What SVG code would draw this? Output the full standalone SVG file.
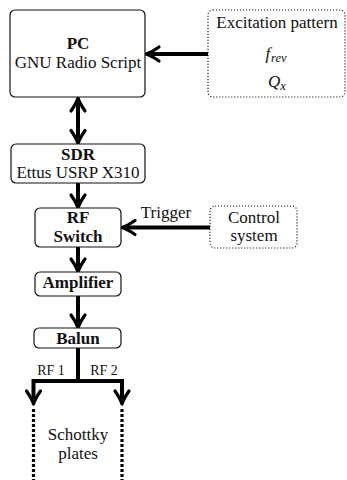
<svg xmlns="http://www.w3.org/2000/svg" width="347" height="480" viewBox="0 0 347 480" font-family="Liberation Serif">
<style>
text{font-size:17px;fill:#111;text-anchor:middle}
.b{font-weight:bold}
.s{font-size:14px}
.box{fill:#fff;stroke:#111;stroke-width:1.2}
.dot{fill:#fff;stroke:#111;stroke-width:1.1;stroke-dasharray:1.1 1.9}
.ar{fill:none;stroke:#000;stroke-width:4;marker-end:url(#ah)}
.ar2{fill:none;stroke:#000;stroke-width:4;marker-end:url(#ah);marker-start:url(#ah)}
.ln{fill:none;stroke:#000;stroke-width:4}
.pl{fill:none;stroke:#000;stroke-width:3.2;stroke-dasharray:3 2}
.m{font-style:italic}
.sub{font-style:italic;font-size:12.5px}
</style>
<defs>
<marker id="ah" markerUnits="userSpaceOnUse" viewBox="-16 -10 20 20" markerWidth="20" markerHeight="20" refX="-4" refY="0" orient="auto-start-reverse" overflow="visible">
<path d="M-12,-7 Q-4,-1.5 1,0 Q-4,1.5 -12,7" fill="none" stroke="#000" stroke-width="3.2" stroke-linecap="round" stroke-linejoin="round"/>
</marker>
</defs>
<g id="connectors">
<path class="ar" d="M208,54 H151"/>
<path class="ar2" d="M78,103 V138.5"/>
<path class="ar" d="M78,183 V203"/>
<path class="ar" d="M210,227.5 H127"/>
<path class="ar" d="M78,247 V267"/>
<path class="ar" d="M78,296 V323"/>
<path class="ln" d="M78,348 V381"/>
<path class="ar2" d="M33.5,399 V381 H122 V399" stroke-linejoin="miter"/>
<text class="s" x="51" y="375">RF 1</text>
<text class="s" x="104" y="375">RF 2</text>
<text x="166" y="218">Trigger</text>
</g>
<g id="pc">
<rect class="box" x="10" y="10" width="135" height="87" rx="5"/>
<text class="b" x="78" y="49">PC</text>
<text x="78" y="67.5">GNU Radio Script</text>
</g>
<g id="excitation">
<rect class="dot" x="208" y="10" width="137" height="87" rx="5"/>
<text x="277" y="28">Excitation pattern</text>
<text x="276" y="59"><tspan class="m">f</tspan><tspan class="sub" dx="1" dy="3">rev</tspan></text>
<text x="277" y="87"><tspan class="m">Q</tspan><tspan class="sub" dy="3">x</tspan></text>
</g>
<g id="sdr">
<rect class="box" x="11" y="144" width="134" height="39" rx="5"/>
<text class="b" x="78" y="160">SDR</text>
<text x="78" y="178">Ettus USRP X310</text>
</g>
<g id="rfswitch">
<rect class="box" x="35" y="208" width="86" height="39" rx="5"/>
<text class="b" x="78" y="223">RF</text>
<text class="b" x="78" y="242">Switch</text>
</g>
<g id="control">
<rect class="dot" x="210" y="206" width="87" height="42" rx="5"/>
<text x="254" y="223">Control</text>
<text x="254" y="241">system</text>
</g>
<g id="amplifier">
<rect class="box" x="35" y="272" width="86" height="24" rx="5"/>
<text class="b" x="78" y="288">Amplifier</text>
</g>
<g id="balun">
<rect class="box" x="34" y="328" width="87" height="20" rx="5"/>
<text class="b" x="78" y="344">Balun</text>
</g>
<g id="schottky">
<path class="pl" d="M33.5,409 V480"/>
<path class="pl" d="M122,409 V480"/>
<text x="78" y="440">Schottky</text>
<text x="78" y="459">plates</text>
</g>
</svg>
